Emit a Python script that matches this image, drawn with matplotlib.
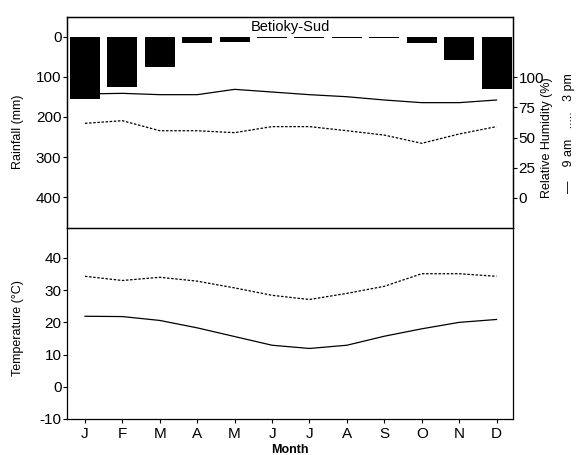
import matplotlib
matplotlib.use("Agg")
import matplotlib.pyplot as plt
import numpy as np

plt.rcParams['font.family'] = ['Liberation Sans', 'DejaVu Sans']
plt.rcParams['axes.unicode_minus'] = False

months = ["J", "F", "M", "A", "M", "J", "J", "A", "S", "O", "N", "D"]
rainfall = [155, 126, 77, 17, 13, 3, 3, 3, 3, 17, 58, 131]
rh_9am = [86, 86.5, 85.4, 85.4, 89.8, 87.6, 85.4, 83.7, 81, 78.8, 78.8, 81]
rh_3pm = [61.7, 63.9, 55.6, 55.6, 54, 59, 59, 55.6, 52, 45.2, 52.9, 59]
t_max = [34.3, 33.0, 34.0, 32.8, 30.7, 28.4, 27.1, 29.0, 31.2, 35.1, 35.1, 34.3]
t_min = [21.9, 21.8, 20.6, 18.3, 15.6, 12.9, 11.9, 12.9, 15.7, 18.0, 20.0, 20.9]
station = "Betioky-Sud"

W, H = 576, 455
fig = plt.figure(figsize=(W / 100, H / 100), dpi=100)
L, R = 67 / W, 513 / W
ax1 = fig.add_axes([L, 1 - 228 / H, R - L, 211 / H])
ax2 = fig.add_axes([L, 1 - 419 / H, R - L, 191 / H])

x = np.arange(len(months))
xlim = (-0.48, 11.44)

# Top panel
tw = ax1.twinx()
ax1.set_zorder(tw.get_zorder() + 1)
ax1.patch.set_visible(False)

ax1.bar(x, rainfall, width=0.8, color='black', zorder=3)
ax1.set_xlim(*xlim)
ax1.set_ylim(476, -48.5)
ax1.set_yticks([0, 100, 200, 300, 400])
ax1.set_xticks([])
ax1.text(5.5, -24, station, ha='center', va='center', fontsize=10.5)

tw.plot(x, rh_9am, color='black', lw=0.9)
tw.plot(x, rh_3pm, color='black', lw=0.9, linestyle=(0, (2, 1.3)))
tw.set_ylim(-24.8, 149.6)
tw.set_yticks([0, 25, 50, 75, 100])

for a in (ax1, tw):
    a.tick_params(axis='y', labelsize=11, length=3, width=0.8, pad=1)
    for s in a.spines.values():
        s.set_linewidth(0.9)

fig.text(18 / W, 1 - 132 / H, "Rainfall (mm)", rotation=90,
         ha='center', va='center', fontsize=9)
fig.text(547 / W, 1 - 138 / H, "Relative Humidity (%)", rotation=90,
         ha='center', va='center', fontsize=9)
fig.text(569 / W, 1 - 133 / H, "—    9 am   .....   3 pm", rotation=90,
         ha='center', va='center', fontsize=9)

# Bottom panel
ax2.plot(x, t_max, color='black', lw=0.9, linestyle=(0, (2, 1.3)))
ax2.plot(x, t_min, color='black', lw=0.9)
ax2.set_xlim(*xlim)
ax2.set_ylim(-10, 49.3)
ax2.set_yticks([-10, 0, 10, 20, 30, 40])
ax2.set_xticks(x)
ax2.set_xticklabels(months)
ax2.spines['top'].set_visible(False)
for s in ax2.spines.values():
    s.set_linewidth(0.9)
ax2.tick_params(axis='both', labelsize=11, length=3, width=0.8, pad=1)
ax2.tick_params(axis='x', pad=3)
fig.text(18 / W, 1 - 328 / H, "Temperature (°C)", rotation=90,
         ha='center', va='center', fontsize=9)
ax2.set_xlabel("Month", fontsize=9, fontweight='bold', labelpad=2)

fig.savefig("out.png", dpi=100)
